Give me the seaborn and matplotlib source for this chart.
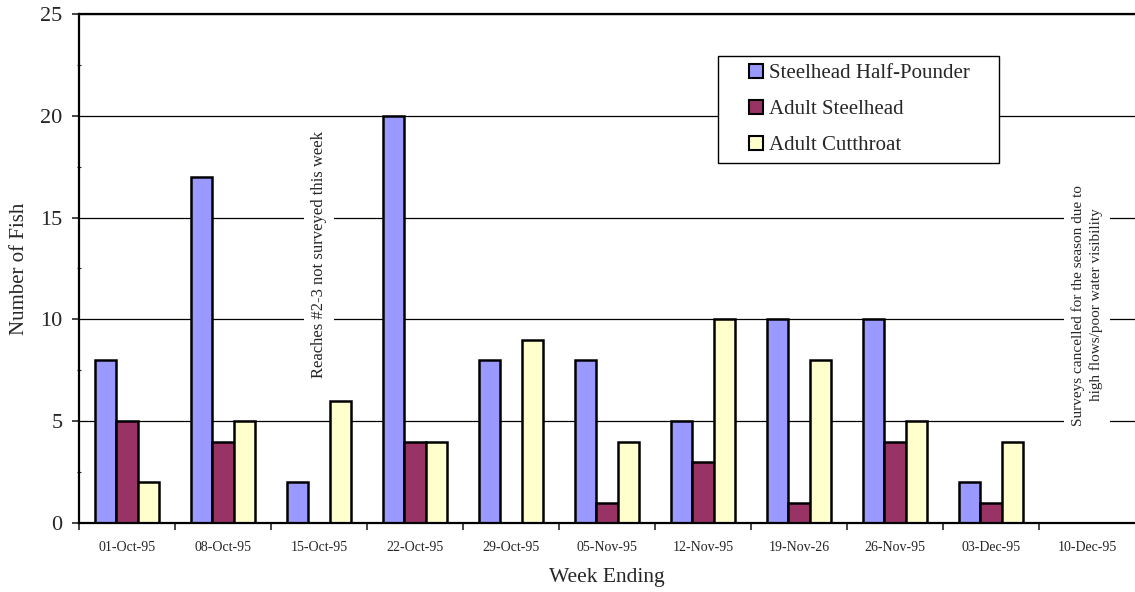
import numpy as np
import pandas as pd
import matplotlib
matplotlib.use("Agg")
import matplotlib.pyplot as plt
import seaborn as sns
from matplotlib.ticker import MultipleLocator, FixedLocator
from matplotlib.patches import Rectangle
from matplotlib.transforms import IdentityTransform

weeks = ['01-Oct-95', '08-Oct-95', '15-Oct-95', '22-Oct-95', '29-Oct-95', '05-Nov-95',
         '12-Nov-95', '19-Nov-26', '26-Nov-95', '03-Dec-95', '10-Dec-95']
half_pounder = [8, 17, 2, 20, 8, 8, 5, 10, 10, 2, np.nan]
adult_steelhead = [5, 4, np.nan, 4, np.nan, 1, 3, 1, 4, 1, np.nan]
adult_cutthroat = [2, 5, 6, 4, 9, 4, 10, 8, 5, 4, np.nan]
series = ['Steelhead Half-Pounder', 'Adult Steelhead', 'Adult Cutthroat']
colors = ['#9999FF', '#993366', '#FFFFCC']

df = pd.DataFrame({'Week': weeks,
                   series[0]: half_pounder,
                   series[1]: adult_steelhead,
                   series[2]: adult_cutthroat})
long = df.melt(id_vars='Week', var_name='Species', value_name='Fish').dropna()

sns.set_style("white")
plt.rcParams['font.family'] = ['Liberation Serif', 'DejaVu Serif']

fig = plt.figure(figsize=(11.35, 5.92), dpi=100)
ax = fig.add_axes([0.0696, 0.1166, 0.9304, 0.8598])

sns.barplot(data=long, x='Week', y='Fish', hue='Species', order=weeks, hue_order=series,
            palette=colors, width=0.667, edgecolor='black', linewidth=1.8,
            saturation=1, ax=ax)

ax.set_xlim(-0.5, len(weeks) - 0.5)
ax.set_ylim(0, 25)
ax.yaxis.set_major_locator(MultipleLocator(5))
ax.yaxis.set_minor_locator(MultipleLocator(2.5))
ax.yaxis.grid(True, which='major', color='black', linewidth=0.9)
ax.set_axisbelow(True)

# category boundaries get the tick marks, labels sit in the middle
ax.xaxis.set_minor_locator(FixedLocator(np.arange(-0.5, len(weeks) - 1, 1.0)))
ax.tick_params(axis='x', which='major', length=0, labelsize=10, pad=13)
ax.tick_params(axis='x', which='minor', length=5, width=1.2, direction='out', bottom=True)
ax.tick_params(axis='y', which='major', length=5, width=1.2, labelsize=16, pad=7, left=True)
ax.tick_params(axis='y', which='minor', length=3, width=0.8, direction='inout', left=True)

for s in ['left', 'top', 'bottom']:
    ax.spines[s].set_color('black')
    ax.spines[s].set_linewidth(1.6)
ax.spines['right'].set_visible(False)

ax.set_xlabel('Week Ending', fontsize=15.5, labelpad=10)
ax.set_ylabel('Number of Fish', fontsize=15, labelpad=8)

ax.text(2, 13.2, 'Reaches #2-3 not surveyed this week', rotation=90, ha='center', va='center',
        fontsize=12, bbox=dict(facecolor='white', edgecolor='none', pad=5))
ax.text(10, 10.7, 'Surveys cancelled for the season due to\nhigh flows/poor water visibility',
        rotation=90, ha='center', va='center', fontsize=11, linespacing=1.4,
        bbox=dict(facecolor='white', edgecolor='none', pad=5))

leg = ax.legend(loc='upper left', bbox_to_anchor=(0.6345, 0.902), borderaxespad=0,
                fontsize=15, frameon=False, handlelength=0.65, handleheight=0.65,
                handletextpad=0.3, labelspacing=0.8, borderpad=0, title=None)
leg.set_zorder(6)
for h in leg.legend_handles:
    h.set_edgecolor('black')
    h.set_linewidth(1.5)

# Excel-style legend box: wide side margins, narrow top/bottom
fig.canvas.draw()
bb = leg.get_window_extent()
box = Rectangle((bb.x0 - 31, bb.y0 - 8), bb.width + 60, bb.height + 16,
                transform=IdentityTransform(), facecolor='white', edgecolor='black',
                linewidth=1.0, zorder=5.5, clip_on=False)
ax.add_patch(box)

fig.savefig('out.png', dpi=100)
